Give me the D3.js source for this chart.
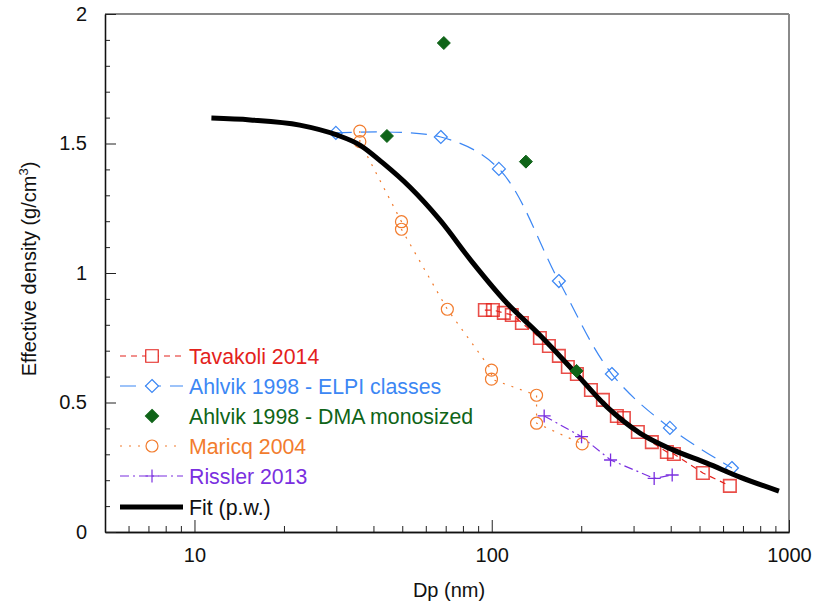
<!DOCTYPE html>
<html>
<head>
<meta charset="utf-8">
<script src="https://cdn.jsdelivr.net/npm/d3@7"></script>
<style>
  body { margin: 0; background: #fff; }
  text { font-family: "Liberation Sans", Arial, sans-serif; }
</style>
</head>
<body>
<svg id="chart" width="814" height="601"></svg>
<script>
// ---------------------------------------------
// data (Dp in nm, density in g/cm3)
var tavakoliDp = [94.8, 100.9, 109.8, 116.8, 126.3, 145.2, 155.7, 168.2, 180.3, 193.4, 215.6, 236.6, 263.6, 278.3, 310.1, 345.6, 388.3, 410.0, 513.2, 632.6];
var tavakoliRho = [0.857, 0.857, 0.846, 0.838, 0.807, 0.749, 0.718, 0.680, 0.637, 0.610, 0.548, 0.510, 0.448, 0.440, 0.386, 0.347, 0.309, 0.301, 0.228, 0.178];

var elpiDp = [29.9, 67.4, 105.7, 168.2, 253.6, 397.5, 642.6];
var elpiRho = [1.541, 1.525, 1.402, 0.969, 0.610, 0.402, 0.247];

var dmaDp = [44.4, 69.0, 130.3, 192.9];
var dmaRho = [1.529, 1.888, 1.430, 0.622];

var maricqDp = [36.0, 36.0, 49.7, 49.7, 70.9, 99.8, 99.8, 141.5, 141.5, 201.5];
var maricqRho = [1.548, 1.507, 1.198, 1.169, 0.860, 0.625, 0.590, 0.528, 0.420, 0.340];

var risslerDp = [150.1, 200.5, 251.0, 351.9, 404.6];
var risslerRho = [0.448, 0.368, 0.278, 0.207, 0.220];

var fitDp = [11.4, 15.4, 22.6, 30.1, 36.0, 43.0, 53.0, 66.9, 86.4, 112.4, 142.9, 187.5, 244, 315, 407, 529, 684, 925];
var fitRho = [1.598, 1.591, 1.571, 1.533, 1.494, 1.425, 1.332, 1.205, 1.039, 0.884, 0.768, 0.625, 0.483, 0.382, 0.317, 0.266, 0.212, 0.158];

var xMajor = [10, 100, 1000];
var yMajor = [0, 0.5, 1, 1.5, 2];

var zip = (a, b) => a.map((d, i) => [d, b[i]]);

// ---------------------------------------------
// layout
var svg = d3.select("#chart"),
    width = +svg.attr("width"),
    height = +svg.attr("height"),
    margin = { left: 105, right: 25, top: 14, bottom: 69 };

var x = d3.scaleLog()
    .domain([5, 1000])
    .range([margin.left, width - margin.right]);
var y = d3.scaleLinear()
    .domain([0, 2])
    .range([height - margin.bottom, margin.top]);

var xMinor = [6, 7, 8, 9, 20, 30, 40, 50, 60, 70, 80, 90, 200, 300, 400, 500, 600, 700, 800, 900];
var yMinor = d3.range(1, 20).map((d) => d / 10).filter((d) => d * 10 % 5 != 0);

// ---------------------------------------------
// frame: top black, right grey
svg.append("line")
    .attr("x1", margin.left).attr("x2", width - margin.right)
    .attr("y1", margin.top).attr("y2", margin.top)
    .attr("stroke", "#111").attr("stroke-width", 1.2);
svg.append("line")
    .attr("x1", width - margin.right).attr("x2", width - margin.right)
    .attr("y1", margin.top).attr("y2", height - margin.bottom)
    .attr("stroke", "#8a8a8a").attr("stroke-width", 2);

// ---------------------------------------------
// axes (ticks point inwards)
var gx = svg.append("g")
    .attr("transform", `translate(0,${height - margin.bottom})`);
gx.append("g")
    .call(d3.axisBottom(x).tickValues(xMinor).tickSize(-6).tickSizeOuter(0).tickFormat(""));
gx.append("g")
    .call(d3.axisBottom(x).tickValues(xMajor).tickSize(-12).tickSizeOuter(0).tickPadding(16).tickFormat(d3.format("d")));

var gy = svg.append("g")
    .attr("transform", `translate(${margin.left},0)`);
gy.append("g")
    .call(d3.axisLeft(y).tickValues(yMinor).tickSize(-5).tickSizeOuter(0).tickFormat(""));
gy.append("g")
    .call(d3.axisLeft(y).tickValues(yMajor).tickSize(-11).tickSizeOuter(0).tickPadding(18).tickFormat((d) => String(d)));

svg.selectAll(".tick line").attr("stroke", "#222");
svg.selectAll(".domain").attr("stroke", "#111").attr("stroke-width", 1.3);
svg.selectAll(".tick text")
    .style("font-size", "20px")
    .attr("fill", "#111");

svg.append("text")
    .attr("x", 449).attr("y", 597)
    .attr("text-anchor", "middle")
    .style("font-size", "20px")
    .attr("fill", "#111")
    .text("Dp (nm)");

var yTitle = svg.append("text")
    .attr("transform", "translate(36,269) rotate(-90)")
    .attr("text-anchor", "middle")
    .style("font-size", "20px")
    .attr("fill", "#111");
yTitle.append("tspan").text("Effective density (g/cm");
yTitle.append("tspan").attr("dy", -8).style("font-size", "13px").text("3");
yTitle.append("tspan").attr("dy", 8).text(")");

// ---------------------------------------------
// series
var red = "#e3221c", blue = "#3c87f4", green = "#0f6418", orange = "#f27c2e", purple = "#7a2fe0";

var line = d3.line().x((d) => x(d[0])).y((d) => y(d[1]));

function drawLine(pts, color, dash, curve, w) {
    svg.append("path")
        .datum(pts)
        .attr("fill", "none")
        .attr("stroke", color)
        .attr("stroke-width", w || 1.2)
        .attr("stroke-dasharray", dash)
        .attr("d", line.curve(curve || d3.curveLinear));
}

var symSquare = d3.symbol().type(d3.symbolSquare).size(156),
    symDiamond = (s) => "M0,-" + s + "L" + s + ",0L0," + s + "L-" + s + ",0Z",
    symCircle = d3.symbol().type(d3.symbolCircle).size(113),
    symPlus = (s) => "M-" + s + ",0H" + s + "M0,-" + s + "V" + s;

function drawMarks(pts, path, stroke, fill, w, op) {
    svg.append("g")
        .selectAll("path")
        .data(pts)
        .join("path")
        .attr("transform", (d) => `translate(${x(d[0])},${y(d[1])})`)
        .attr("d", path)
        .attr("fill", fill)
        .attr("stroke", stroke)
        .attr("stroke-width", w || 1.2)
        .attr("stroke-opacity", op || 1);
}

var tav = zip(tavakoliDp, tavakoliRho),
    elpi = zip(elpiDp, elpiRho),
    dma = zip(dmaDp, dmaRho),
    mar = zip(maricqDp, maricqRho),
    ris = zip(risslerDp, risslerRho),
    fit = zip(fitDp, fitRho);

drawLine(tav, red, "6,5");
drawLine(elpi, blue, "16,9", d3.curveCatmullRom);
drawLine(mar, orange, "2,7");
drawLine(ris, purple, "9,4,2,4");

drawMarks(tav, symSquare(), red, "none", 1.6, 0.8);
drawMarks(elpi, symDiamond(6.5), blue, "none", 1.2);
drawMarks(mar, symCircle(), orange, "none", 1.2);
drawMarks(ris, symPlus(6.5), purple, "none", 1.3);

drawLine(fit, "#000", null, d3.curveMonotoneX, 5);
drawMarks(dma, symDiamond(6.5), green, green, 1);

// ---------------------------------------------
// legend
var legend = [
    { name: "Tavakoli 2014", color: red, dash: "6,5", mark: symSquare(), fill: "none" },
    { name: "Ahlvik 1998 - ELPI classes", color: blue, dash: "16,9", mark: symDiamond(6.5), fill: "none" },
    { name: "Ahlvik 1998 - DMA monosized", color: green, dash: null, mark: symDiamond(6.5), fill: green, noLine: true },
    { name: "Maricq 2004", color: orange, dash: "2,7", mark: symCircle(), fill: "none" },
    { name: "Rissler 2013", color: purple, dash: "9,4,2,4", mark: symPlus(6.5), fill: "none" },
    { name: "Fit (p.w.)", color: "#000", dash: null, mark: null, fill: "none", fit: true }
];
var legendY = [356, 386, 416, 446, 476, 507];

var lg = svg.append("g")
    .selectAll("g")
    .data(legend)
    .join("g")
    .attr("transform", (d, i) => `translate(0,${legendY[i]})`);

lg.filter((d) => !d.noLine)
    .append("line")
    .attr("x1", 120).attr("x2", 183)
    .attr("stroke", (d) => d.color)
    .attr("stroke-width", (d) => d.fit ? 5 : 1.2)
    .attr("stroke-dasharray", (d) => d.dash);

lg.filter((d) => d.mark)
    .append("path")
    .attr("transform", "translate(152,0)")
    .attr("d", (d) => d.mark)
    .attr("fill", (d) => d.fill == "none" ? "#fff" : d.fill)
    .attr("stroke", (d) => d.color)
    .attr("stroke-width", 1.2);

lg.append("text")
    .attr("x", 189)
    .attr("y", 7.5)
    .style("font-size", "21.3px")
    .attr("fill", (d) => d.fit ? "#111" : d.color)
    .text((d) => d.name);
</script>
</body>
</html>
